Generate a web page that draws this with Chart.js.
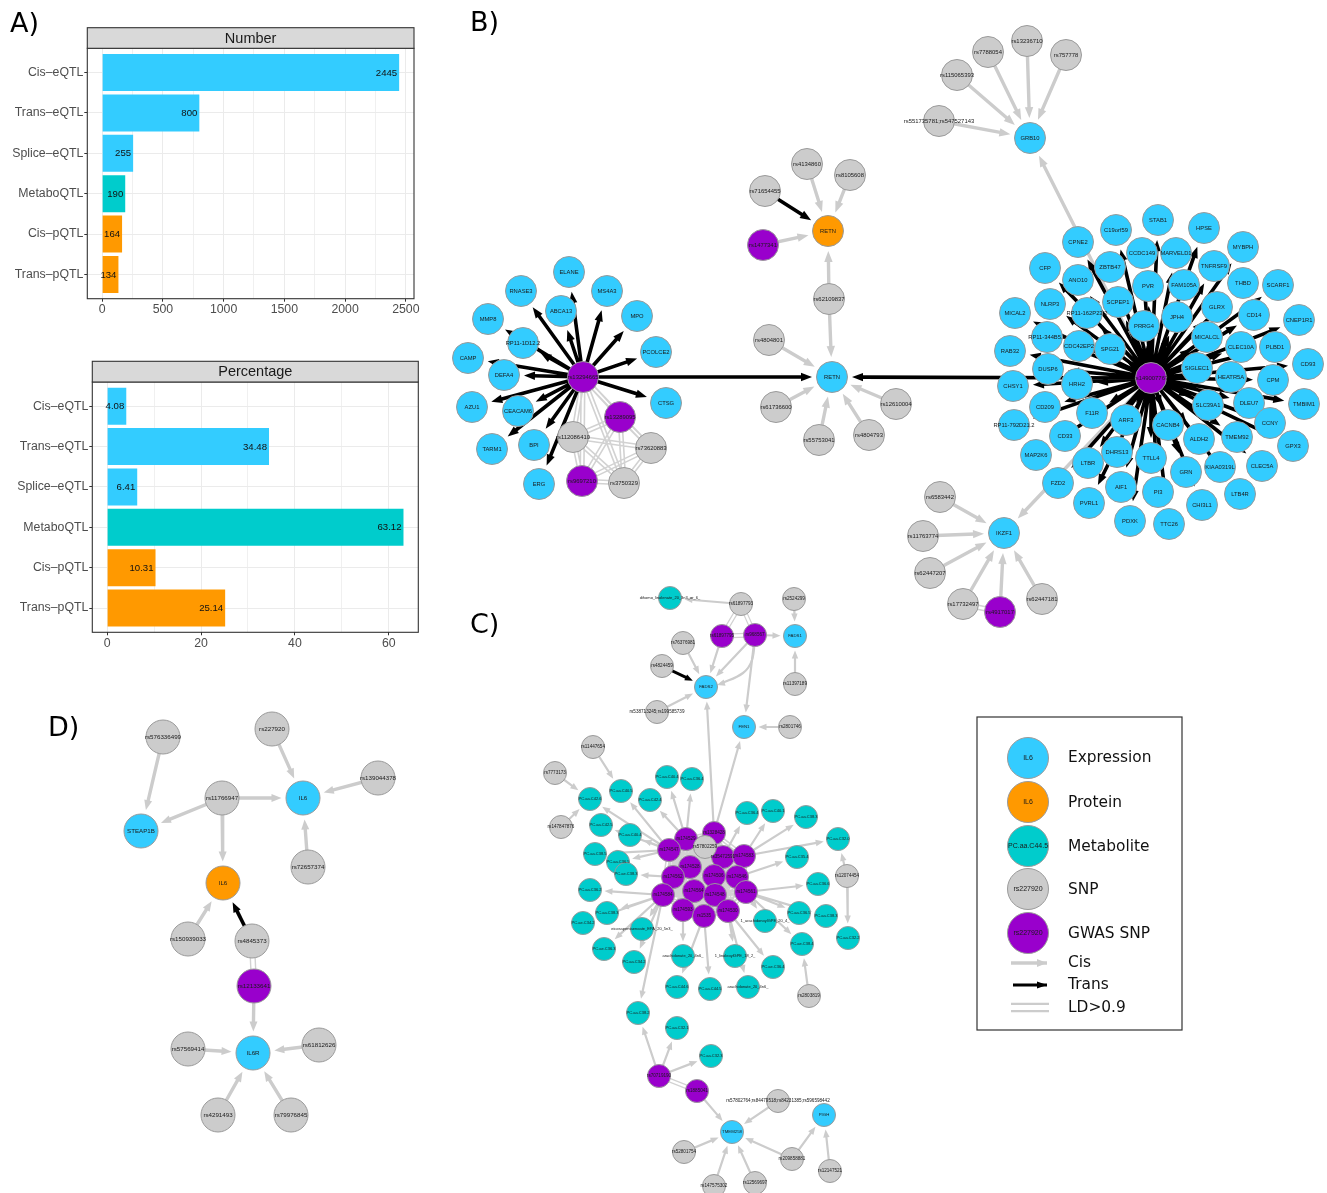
<!DOCTYPE html>
<html>
<head>
<meta charset="utf-8">
<title>QTL networks</title>
<script src="https://cdn.jsdelivr.net/npm/chart.js@4/dist/chart.umd.min.js"></script>
<style>
  html, body { margin: 0; padding: 0; background: #fff; }
  #page { position: relative; width: 1327px; height: 1193px; overflow: hidden; }
  canvas { position: absolute; display: block; }
  .tag { position: absolute; font: 27px "DejaVu Sans", sans-serif; color: #000; line-height: 30px; }
</style>
</head>
<body>
<div id="page">
  <canvas id="networkChart" width="1327" height="1193" style="left:0;top:0"></canvas>
  <canvas id="numberChart" width="440" height="330" style="left:0;top:0"></canvas>
  <canvas id="percentChart" width="440" height="300" style="left:0;top:350px"></canvas>
  <div class="tag" style="left:10px;top:8px">A)</div>
  <div class="tag" style="left:470px;top:7px">B)</div>
  <div class="tag" style="left:470px;top:609px">C)</div>
  <div class="tag" style="left:48px;top:712px">D)</div>
</div>
<script>
// ---- panel A values
const qtlTypes = ["Cis–eQTL", "Trans–eQTL", "Splice–eQTL", "MetaboQTL", "Cis–pQTL", "Trans–pQTL"];
const qtlNumber = [2445, 800, 255, 190, 164, 134];
const qtlPercent = [4.08, 34.48, 6.41, 63.12, 10.31, 25.14];
const numberTicks = [0, 250, 500, 750, 1000, 1250, 1500, 1750, 2000, 2250, 2500];
const percentTicks = [0, 10, 20, 30, 40, 50, 60];

const BLUE = "#33CCFF", ORANGE = "#FF9900", TEAL = "#00CCCC", GREY = "#CCCCCC", PURPLE = "#9900CC";
const qtlColors = [BLUE, BLUE, BLUE, TEAL, ORANGE, ORANGE];

// ---- network nodes: [name, layout x, layout y]. "#n" only keeps repeated names apart
const genesB = [
  ["ELANE",569,272],["MS4A3",607,291],["RNASE3",521,291],["ABCA13",561,311],["MPO",637,316],["MMP8",488,319],
  ["RP11-1D12.2",523,343],["PCOLCE2",656,352],["CAMP",468,358],["DEFA4",504,375],["CTSG",666,403],["AZU1",472,407],
  ["CEACAM6",518,411],["BPI",534,445],["TARM1",492,449],["ERG",539,484]
];
const hubTargetsRight = [
  ["STAB1",1158,220],["HPSE",1204,228],["C19orf59",1116,230],["MYBPH",1243,247],["CPNE2",1078,242],["CFP",1045,268],
  ["CCDC149",1142,253],["MARVELD1",1176,253],["ZBTB47",1110,267],["TNFRSF9",1214,266],["THBD",1243,283],["SCARF1",1278,285],
  ["ANO10",1078,280],["PVR",1148,286],["FAM105A",1184,285],["NLRP3",1050,304],["GLRX",1217,307],["CD14",1254,315],
  ["CNEP1R1",1299,320],["MICAL2",1015,313],["SCPEP1",1118,302],["RP11-162P23.2",1087,313],["JPH4",1177,317],["PRRG4",1144,326],
  ["MICALCL",1207,337],["RP11-344B5.2",1047,337],["PLBD1",1275,347],["CLEC10A",1241,347],["CDC42EP2",1079,346],["SPG21",1110,349],
  ["RAB32",1010,351],["CD93",1308,364],["DUSP6",1048,369],["CPM",1273,380],["SIGLEC1",1197,368],["HEATR5A",1231,377],
  ["CHSY1",1013,386],["HRH2",1077,384],["CD209",1045,407],["TMBIM1",1304,404],["DLEU7",1249,403],["SLC39A1",1208,405],
  ["RP11-792D21.2",1014,425],["F11R",1092,413],["CCNY",1270,423],["ARF3",1126,420],["CACNB4",1168,425],["CD33",1065,436],
  ["GPX3",1293,446],["TMEM92",1237,437],["ALDH2",1199,439],["MAP2K6",1036,455],["DHRS13",1117,452],["TTLL4",1151,458],
  ["CLEC5A",1262,466],["KIAA0319L",1220,467],["LTBR",1088,463],["GRN",1186,472],["FZD2",1058,483],["AIF1",1121,487],
  ["LTB4R",1240,494],["PI3",1158,492],["PVRL1",1089,503],["CHI3L1",1202,505],["PDXK",1130,521],["TTC26",1169,524]
];
const otherGenesB = [["RETN",832,377],["GRB10",1030,138],["IKZF1",1004,533]];
const proteinsB = [["RETN#p",828,231]];
const snpsB = [
  ["rs112086410",573,437],["rs73620883",651,448],["rs3750329",624,483],["rs62109837",829,299],["rs4804801",769,340],
  ["rs61736600",776,407],["rs55753041",819,440],["rs4804793",869,435],["rs12610004",896,404],["rs71654455",765,191],
  ["rs4134860",807,164],["rs8105608",850,175],["rs13236710",1027,41],["rs7788054",988,52],["rs757778",1066,55],
  ["rs115065393",957,75],["rs551735781;rs547527143",939,121],["rs6583442",940,497],["rs11763774",923,536],
  ["rs62447207",930,573],["rs17732497",963,604],["rs62447181",1042,599]
];
const gwasB = [
  ["rs13294665",583,377],["rs13289095",620,417],["rs9697210",582,481],["rs1477341",763,245],
  ["rs149007767",1151,378],["rs4917017",1000,612]
];

const genesC = [["FADS1",795,636],["FADS2",706,687],["FEN1",744,727],["PIGH",824,1115],["TMEM258",732,1132]];
const metabolitesC = [
  ["dihomo_linolenate_20_3n3_or_6_",670,598],["PC.aa.C40.5",621,791],["PC.aa.C42.6",590,799],["PC.aa.C40.4",667,777],
  ["PC.aa.C36.4",692,779],["PC.aa.C42.4",650,800],["PC.aa.C42.5",601,825],["PC.aa.C40.4#2",630,835],["PC.aa.C38.5",595,854],
  ["PC.aa.C36.5",618,862],["PC.ae.C38.3",626,874],["PC.aa.C36.2",590,890],["PC.aa.C38.3",607,913],["PC.ae.C34.2",583,923],
  ["PC.ae.C36.3",604,949],["eicosapentaenoate_EPA_20_5n3_",642,929],["PC.aa.C34.2",634,962],["arachidonate_20_4n6_",683,956],
  ["1_linoleoylGPE_18_2_",735,956],["PC.aa.C44.6",677,987],["PC.aa.C44.5",710,989],["arachidonate_20_4n6_#2",748,987],
  ["PC.ae.C36.4",773,967],["1_arachidonoylGPE_20_4_",765,921],["PC.aa.C36.5#2",799,913],["PC.aa.C38.3#2",826,916],
  ["PC.ae.C38.4",802,944],["PC.aa.C32.2",848,938],["PC.aa.C36.6",818,884],["PC.aa.C35.4",797,857],["PC.aa.C32.0",838,839],
  ["PC.aa.C38.3#3",806,817],["PC.aa.C36.4#2",747,813],["PC.aa.C40.1",773,811],["PC.aa.C38.2",638,1013],["PC.aa.C32.1",677,1028],
  ["PC.aa.C32.3",711,1056]
];
const snpsC = [
  ["rs61897793",741,604],["rs2524299",794,599],["rs76376981",683,643],["rs4824459",662,666],["rs11397189",795,684],
  ["rs538713245;rs199585739",657,712],["rs2801746",790,727],["rs11447654",593,747],["rs7773173",555,773],["rs147847876",561,827],
  ["rs12074454",847,876],["rs2803819",809,996],["rs57802764;rs84479518;rs84231385;rs596598442",778,1101],["rs52801754",684,1152],
  ["rs209858881",792,1159],["rs12147521",830,1171],["rs147575302",714,1186],["rs12569697",755,1183],["rs57802259",705,847]
];
const gwasC = [
  ["rs61897795",722,636],["rs968567",755,635],["rs70719190",659,1076],["rs1885041",697,1091],
  ["rs1328428",714,833],["rs174529",686,839],["rs174547",669,850],["rs35472591",723,857],["rs174583",744,856],
  ["rs174528",690,867],["rs174562",673,877],["rs174506",714,876],["rs174546",737,877],["rs174584",663,895],
  ["rs174564",694,891],["rs174548",715,895],["rs174561",746,892],["rs174593",683,910],["rs1535",704,916],["rs174530",728,911]
];

const genesD = [["IL6",303,798],["STEAP1B",141,831],["IL6R",253,1053]];
const proteinsD = [["IL6#p",223,883]];
const snpsD = [
  ["rs576336499",163,737],["rs227920",272,729],["rs139044378",378,778],["rs11766947",222,798],["rs72657374",308,867],
  ["rs150939033",188,939],["rs4845373",252,941],["rs57569414",188,1049],["rs61812626",319,1045],["rs4291493",218,1115],
  ["rs79976845",291,1115]
];
const gwasD = [["rs12133641",254,986]];

// legend keys: [node text, fill, layout y]
const legendKeyX = 1028;
const legendKeys = [["IL6",BLUE,758],["IL6",ORANGE,802],["PC.aa.C44.5",TEAL,846],["rs227920",GREY,889],["rs227920",PURPLE,933]];
const legendTexts = [["Expression",758],["Protein",803],["Metabolite",847],["SNP",890],["GWAS SNP",934],["Cis",963],["Trans",985],["LD>0.9",1008]];

// ---- network edges: [from, to]
const hubA = "rs13294665", hubB = "rs149007767";
const transB = [
  [hubA,"RETN"],[hubB,"RETN"],["rs71654455","RETN#p"],
  ...genesB.map(g => [hubA, g[0]]),
  ...hubTargetsRight.map(g => [hubB, g[0]])
];
const cisB = [
  ["rs62109837","RETN"],["rs62109837","RETN#p"],["rs4804801","RETN"],["rs61736600","RETN"],["rs55753041","RETN"],
  ["rs4804793","RETN"],["rs12610004","RETN"],["rs1477341","RETN#p"],["rs4134860","RETN#p"],["rs8105608","RETN#p"],
  ["rs13236710","GRB10"],["rs7788054","GRB10"],["rs757778","GRB10"],["rs115065393","GRB10"],["rs551735781;rs547527143","GRB10"],
  [hubB,"GRB10"],[hubB,"IKZF1"],["rs6583442","IKZF1"],["rs11763774","IKZF1"],["rs62447207","IKZF1"],
  ["rs17732497","IKZF1"],["rs4917017","IKZF1"],["rs62447181","IKZF1"]
];
const ldGroupB = [hubA,"rs13289095","rs112086410","rs73620883","rs9697210","rs3750329"];
const ldB = [["rs17732497","rs4917017"]];

const transC = [["rs4824459","FADS2"]];
const cisC = [
  ["rs61897793","dihomo_linolenate_20_3n3_or_6_"],["rs968567","FADS1"],["rs2524299","FADS1"],["rs11397189","FADS1"],
  ["rs76376981","FADS2"],["rs538713245;rs199585739","FADS2"],["rs61897795","FADS2"],["rs968567","FADS2"],["rs968567","FEN1"],
  ["rs2801746","FEN1"],["rs1328428","FADS2"],["rs1328428","FEN1"],["rs11447654","PC.aa.C40.5"],["rs7773173","PC.aa.C42.6"],
  ["rs147847876","PC.aa.C42.6"],["rs174547","PC.aa.C40.5"],["rs174547","PC.aa.C42.6"],["rs174529","PC.aa.C40.4"],
  ["rs174529","PC.aa.C36.4"],["rs174529","PC.aa.C42.4"],["rs174547","PC.aa.C42.5"],["rs174547","PC.aa.C40.4#2"],
  ["rs174547","PC.aa.C38.5"],["rs174547","PC.aa.C36.5"],["rs174562","PC.ae.C38.3"],["rs174584","PC.aa.C36.2"],
  ["rs174584","PC.aa.C38.3"],["rs174584","PC.ae.C34.2"],["rs174584","PC.ae.C36.3"],["rs174584","eicosapentaenoate_EPA_20_5n3_"],
  ["rs174584","PC.aa.C34.2"],["rs174593","arachidonate_20_4n6_"],["rs174530","1_linoleoylGPE_18_2_"],["rs1535","PC.aa.C44.6"],
  ["rs1535","PC.aa.C44.5"],["rs174530","arachidonate_20_4n6_#2"],["rs174530","PC.ae.C36.4"],["rs174561","1_arachidonoylGPE_20_4_"],
  ["rs174561","PC.aa.C36.5#2"],["rs174561","PC.aa.C38.3#2"],["rs174561","PC.ae.C38.4"],["rs2803819","PC.ae.C38.4"],
  ["rs12074454","PC.aa.C32.2"],["rs12074454","PC.aa.C32.0"],["rs174561","PC.aa.C36.6"],["rs174546","PC.aa.C35.4"],
  ["rs174583","PC.aa.C32.0"],["rs174583","PC.aa.C38.3#3"],["rs35472591","PC.aa.C36.4#2"],["rs174583","PC.aa.C40.1"],
  ["rs174584","PC.aa.C38.2"],["rs70719190","PC.aa.C38.2"],["rs70719190","PC.aa.C32.1"],["rs70719190","PC.aa.C32.3"],
  ["rs1885041","TMEM258"],["rs57802764;rs84479518;rs84231385;rs596598442","TMEM258"],["rs52801754","TMEM258"],
  ["rs209858881","TMEM258"],["rs209858881","PIGH"],["rs12147521","PIGH"],["rs147575302","TMEM258"],["rs12569697","TMEM258"]
];
const ldC = [["rs61897793","rs61897795"],["rs61897793","rs968567"],["rs61897795","rs968567"],["rs70719190","rs1885041"]];
const ldGroupC = ["rs57802259", ...gwasC.slice(4).map(n => n[0])];
// second rs968567 -> FADS2 edge is bent in the picture
const bentEdgeC = [[755,635],[752,660],[743,673],[720,684]];

const transD = [["rs4845373","IL6#p"]];
const cisD = [
  ["rs576336499","STEAP1B"],["rs11766947","STEAP1B"],["rs11766947","IL6"],["rs11766947","IL6#p"],["rs227920","IL6"],
  ["rs139044378","IL6"],["rs72657374","IL6"],["rs150939033","IL6#p"],["rs12133641","IL6R"],["rs57569414","IL6R"],
  ["rs61812626","IL6R"],["rs4291493","IL6R"],["rs79976845","IL6R"]
];
const ldD = [["rs4845373","rs12133641"]];

const legendCis = [[1011,963],[1047,963]];
const legendTrans = [[1013,985],[1047,985]];
const legendLd = [[1011,1007.5],[1049,1007.5]];

// ---- look-up table and helpers
const positions = {};
[genesB, hubTargetsRight, otherGenesB, proteinsB, snpsB, gwasB, genesC, metabolitesC, snpsC, gwasC, genesD, proteinsD, snpsD, gwasD]
  .forEach(list => list.forEach(n => { positions[n[0]] = { x: n[1], y: n[2] }; }));

function allPairs(names) {
  const pairs = [];
  names.forEach((a, i) => names.slice(i + 1).forEach(b => pairs.push([a, b])));
  return pairs;
}

// turns [from,to] pairs into one line dataset with gaps, the arrow heads are painted after it
function arrowDataset(pairs, color, width, radius, head) {
  const points = [], heads = [];
  pairs.forEach(([from, to]) => {
    const a = positions[from], b = positions[to];
    const d = Math.hypot(b.x - a.x, b.y - a.y);
    const ux = (b.x - a.x) / d, uy = (b.y - a.y) / d;
    const tipX = b.x - ux * (radius + head.gap), tipY = b.y - uy * (radius + head.gap);
    points.push({ x: a.x, y: a.y }, { x: tipX - ux * (head.len - 2), y: tipY - uy * (head.len - 2) }, { x: null, y: null });
    heads.push({ x: tipX, y: tipY, ux, uy });
  });
  return { type: "scatter", showLine: true, data: points, borderColor: color, borderWidth: width, pointRadius: 0, spanGaps: false, arrowHeads: heads, headColor: color, headSize: head };
}

function ldDataset(pairs, width, offset) {
  const points = [];
  pairs.forEach(([from, to]) => {
    const a = positions[from], b = positions[to];
    const d = Math.hypot(b.x - a.x, b.y - a.y);
    const nx = -(b.y - a.y) / d * offset, ny = (b.x - a.x) / d * offset;
    points.push({ x: a.x + nx, y: a.y + ny }, { x: b.x + nx, y: b.y + ny }, { x: null, y: null });
    points.push({ x: a.x - nx, y: a.y - ny }, { x: b.x - nx, y: b.y - ny }, { x: null, y: null });
  });
  return { type: "scatter", showLine: true, data: points, borderColor: "#D2D2D2", borderWidth: width, pointRadius: 0, spanGaps: false };
}

function nodeDataset(list, color, radius, fontSize) {
  return {
    type: "scatter",
    data: list.map(n => ({ x: n[1], y: n[2], name: n[0].split("#")[0] })),
    backgroundColor: color,
    borderColor: "#9A9A9A",
    borderWidth: 1,
    pointRadius: radius,
    pointHoverRadius: radius,
    nodeFont: fontSize
  };
}

const headB = { len: 11, half: 4.2, gap: 4.5 };
const headC = { len: 8, half: 3.2, gap: 3 };
const headD = { len: 10, half: 4, gap: 4.5 };
const RB = 15.5, RC = 11.5, RD = 17;

const networkSets = [
  ldDataset(allPairs(ldGroupC), 1.5, 1.5),
  ldDataset(ldC, 1.2, 1.8),
  ldDataset(allPairs(ldGroupB), 1.6, 1.8),
  ldDataset(ldB, 1.4, 2),
  ldDataset(ldD, 1.4, 2.4),
  arrowDataset(cisB, GREY, 3.4, RB, headB),
  arrowDataset(transB, "#000000", 3.6, RB, headB),
  arrowDataset(cisC, GREY, 2.2, RC, headC),
  arrowDataset(transC, "#000000", 3, RC, headC),
  arrowDataset(cisD, GREY, 3.4, RD, headD),
  arrowDataset(transD, "#000000", 3.6, RD, headD),
  {
    type: "line", data: bentEdgeC.map(p => ({ x: p[0], y: p[1] })), borderColor: GREY, borderWidth: 2.2,
    pointRadius: 0, tension: 0.4, arrowHeads: [{ x: 717, y: 685, ux: -0.95, uy: 0.3 }], headColor: GREY, headSize: headC
  },
  // legend line keys
  {
    type: "scatter", showLine: true, data: legendCis.map(p => ({ x: p[0], y: p[1] })), borderColor: GREY, borderWidth: 3.4, pointRadius: 0,
    arrowHeads: [{ x: 1047, y: 963, ux: 1, uy: 0 }], headColor: GREY, headSize: headD
  },
  {
    type: "scatter", showLine: true, data: legendTrans.map(p => ({ x: p[0], y: p[1] })), borderColor: "#000", borderWidth: 3, pointRadius: 0,
    arrowHeads: [{ x: 1047, y: 985, ux: 1, uy: 0 }], headColor: "#000", headSize: { len: 10, half: 3.4 }
  },
  {
    type: "scatter", showLine: true,
    data: [{ x: legendLd[0][0], y: legendLd[0][1] - 3.7 }, { x: legendLd[1][0], y: legendLd[1][1] - 3.7 }, { x: null, y: null },
           { x: legendLd[0][0], y: legendLd[0][1] + 3.7 }, { x: legendLd[1][0], y: legendLd[1][1] + 3.7 }],
    borderColor: GREY, borderWidth: 2.2, pointRadius: 0, spanGaps: false
  },
  nodeDataset(genesB, BLUE, RB, 5.8),
  nodeDataset(hubTargetsRight, BLUE, RB, 5.8),
  nodeDataset(otherGenesB, BLUE, RB, 5.8),
  nodeDataset(proteinsB, ORANGE, RB, 5.8),
  nodeDataset(snpsB, GREY, RB, 5.9),
  nodeDataset(gwasB, PURPLE, RB, 5.9),
  nodeDataset(metabolitesC, TEAL, RC, 4),
  nodeDataset(genesC, BLUE, RC, 4.3),
  nodeDataset(gwasC, PURPLE, RC, 4.6),
  nodeDataset(snpsC, GREY, RC, 4.6),
  nodeDataset(genesD, BLUE, RD, 6.2),
  nodeDataset(proteinsD, ORANGE, RD, 6.2),
  nodeDataset(snpsD, GREY, RD, 6.2),
  nodeDataset(gwasD, PURPLE, RD, 6.2),
  ...legendKeys.map(k => nodeDataset([[k[0], legendKeyX, k[2]]], k[1], 20.5, 7))
];
networkSets.forEach((ds, i) => { ds.order = networkSets.length - i; });

const networkPlugin = {
  id: "networkExtras",
  afterDatasetDraw(chart, args) {
    const ds = chart.data.datasets[args.index];
    if (!ds.arrowHeads) return;
    const { ctx, scales } = chart;
    ctx.save();
    ctx.fillStyle = ds.headColor;
    ds.arrowHeads.forEach(h => {
      const x = scales.x.getPixelForValue(h.x), y = scales.y.getPixelForValue(h.y);
      const bx = x - h.ux * ds.headSize.len, by = y - h.uy * ds.headSize.len;
      ctx.beginPath();
      ctx.moveTo(x, y);
      ctx.lineTo(bx - h.uy * ds.headSize.half, by + h.ux * ds.headSize.half);
      ctx.lineTo(bx + h.uy * ds.headSize.half, by - h.ux * ds.headSize.half);
      ctx.closePath();
      ctx.fill();
    });
    ctx.restore();
  },
  afterDatasetsDraw(chart) {
    const { ctx, scales } = chart;
    ctx.save();
    ctx.textAlign = "center";
    ctx.textBaseline = "middle";
    ctx.fillStyle = "#1a1a1a";
    chart.data.datasets.forEach(ds => {
      if (!ds.nodeFont) return;
      ctx.font = ds.nodeFont + 'px "Liberation Sans", sans-serif';
      ds.data.forEach(p => ctx.fillText(p.name, scales.x.getPixelForValue(p.x), scales.y.getPixelForValue(p.y)));
    });
    // legend frame and words
    ctx.strokeStyle = "#333333";
    ctx.lineWidth = 1.2;
    ctx.strokeRect(scales.x.getPixelForValue(977), scales.y.getPixelForValue(717), 205, 313);
    ctx.textAlign = "left";
    ctx.fillStyle = "#111";
    ctx.font = '15.4px "DejaVu Sans", sans-serif';
    legendTexts.forEach(t => ctx.fillText(t[0], scales.x.getPixelForValue(1068), scales.y.getPixelForValue(t[1])));
    ctx.restore();
  }
};

new Chart(document.getElementById("networkChart").getContext("2d"), {
  type: "scatter",
  data: { datasets: networkSets },
  options: {
    responsive: false,
    animation: false,
    devicePixelRatio: 1,
    events: [],
    clip: false,
    layout: { padding: 0, autoPadding: false },
    scales: {
      x: { type: "linear", min: 0, max: 1327, display: false },
      y: { type: "linear", min: 0, max: 1193, reverse: true, display: false }
    },
    plugins: { legend: { display: false }, tooltip: { enabled: false } }
  },
  plugins: [networkPlugin]
});

// ---- panel A bar charts
const barFrame = {
  id: "barFrame",
  afterDatasetsDraw(chart, args, opts) {
    const { ctx, chartArea: a } = chart;
    const meta = chart.getDatasetMeta(0);
    ctx.save();
    // value labels sit just inside the bar end
    ctx.fillStyle = "#111";
    ctx.font = '9.6px "Liberation Sans", sans-serif';
    ctx.textAlign = "right";
    ctx.textBaseline = "middle";
    meta.data.forEach((bar, i) => ctx.fillText(String(chart.data.datasets[0].data[i].x), bar.x - 2, bar.y + 0.5));
    // panel border and strip
    ctx.strokeStyle = "#333333";
    ctx.lineWidth = 1.1;
    ctx.strokeRect(a.left, a.top, a.right - a.left, a.bottom - a.top);
    ctx.fillStyle = "#D9D9D9";
    ctx.fillRect(a.left, a.top - opts.strip, a.right - a.left, opts.strip);
    ctx.strokeRect(a.left, a.top - opts.strip, a.right - a.left, opts.strip);
    ctx.fillStyle = "#1a1a1a";
    ctx.font = '14.5px "Liberation Sans", sans-serif';
    ctx.textAlign = "center";
    ctx.fillText(opts.title, (a.left + a.right) / 2, a.top - opts.strip / 2 + 0.5);
    ctx.restore();
  }
};

function barChart(id, title, values, xMin, xMax, xTicks, majorEvery, box) {
  return new Chart(document.getElementById(id).getContext("2d"), {
    type: "bar",
    data: {
      datasets: [{
        data: values.map((v, i) => ({ x: v, y: i + 1 })),
        backgroundColor: qtlColors,
        barPercentage: 0.915,
        categoryPercentage: 1
      }]
    },
    options: {
      indexAxis: "y",
      responsive: false,
      animation: false,
      devicePixelRatio: 1,
      events: [],
      layout: { padding: { top: box.top, right: box.right, left: 0, bottom: 0 } },
      scales: {
        x: {
          type: "linear", min: xMin, max: xMax,
          afterBuildTicks: s => { s.ticks = xTicks.map(v => ({ value: v })); },
          afterFit: s => { s.height = box.axisH; },
          border: { display: false },
          grid: {
            color: c => (c.tick.value % majorEvery === 0 ? "#EBEBEB" : "#F0F0F0"),
            lineWidth: 1,
            tickColor: c => (c.tick.value % majorEvery === 0 ? "#333333" : "rgba(0,0,0,0)"),
            tickLength: 3
          },
          ticks: {
            autoSkip: false, maxRotation: 0, color: "#4D4D4D", padding: 1,
            font: { family: "Liberation Sans", size: 12.3 },
            callback: v => (v % majorEvery === 0 ? String(v) : "")
          }
        },
        y: {
          type: "linear", min: 0.4, max: 6.6, reverse: true, offset: false,
          afterBuildTicks: s => { s.ticks = qtlTypes.map((t, i) => ({ value: i + 1 })); },
          afterFit: s => { s.width = box.axisW; },
          border: { display: false },
          grid: { offset: false, color: "#EBEBEB", lineWidth: 1, tickColor: "#333333", tickLength: 3 },
          ticks: {
            autoSkip: false, color: "#4D4D4D", padding: 1,
            font: { family: "Liberation Sans", size: 12.3 },
            callback: v => qtlTypes[v - 1]
          }
        }
      },
      plugins: {
        legend: { display: false }, tooltip: { enabled: false },
        barFrame: { title: title, strip: box.strip }
      }
    },
    plugins: [barFrame]
  });
}

barChart("numberChart", "Number", qtlNumber, -122.25, 2567.25, numberTicks, 500,
  { top: 48.3, right: 26, axisH: 31.3, axisW: 87.3, strip: 20.6 });
barChart("percentChart", "Percentage", qtlPercent, -3.156, 66.276, percentTicks, 20,
  { top: 32, right: 21.7, axisH: 17.7, axisW: 92.3, strip: 20.7 });
</script>
</body>
</html>
